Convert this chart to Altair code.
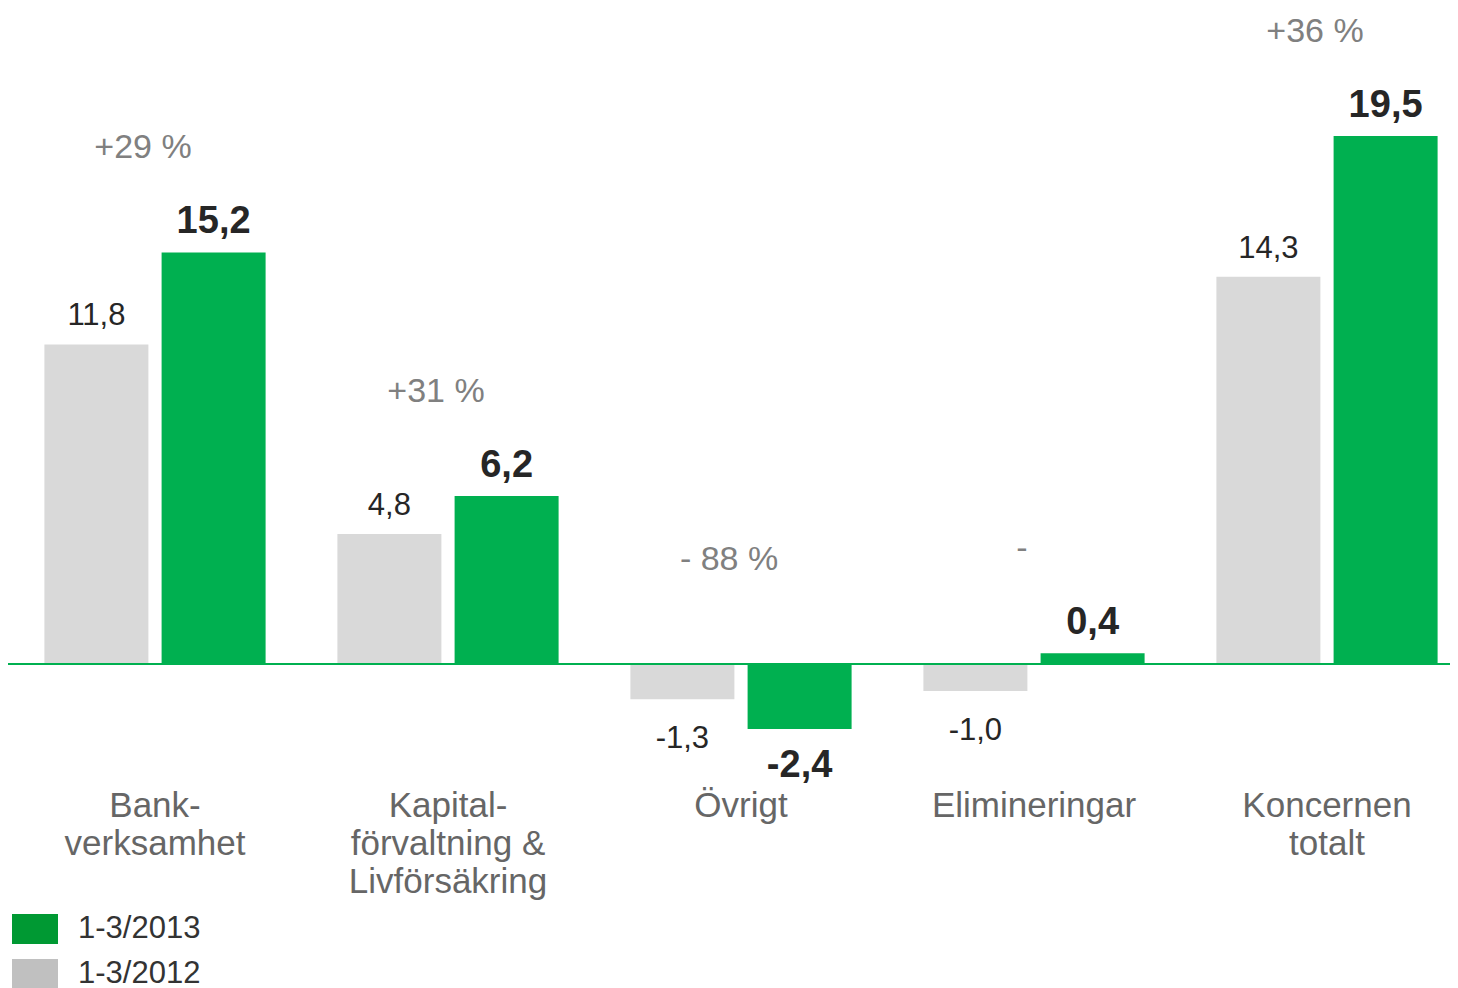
import altair as alt
import pandas as pd

# ---- data ----
categories = ["Bank-\nverksamhet", "Kapital-\nförvaltning &\nLivförsäkring", "Övrigt",
              "Elimineringar", "Koncernen\ntotalt"]
values_2012 = [11.8, 4.8, -1.3, -1.0, 14.3]
values_2013 = [15.2, 6.2, -2.4, 0.4, 19.5]
changes = ["+29 %", "+31 %", "- 88 %", "-", "+36 %"]
series_names = ["1-3/2013", "1-3/2012"]

FONT = "Liberation Sans"
GREEN = "#00B050"
GRAY = "#D9D9D9"


def fmt(v):
    return f"{v:.1f}".replace(".", ",")


rows = []
for i, c in enumerate(categories):
    for s, vals, off in (("1-3/2012", values_2012, -0.2), ("1-3/2013", values_2013, 0.2)):
        v = vals[i]
        rows.append({"cat": c, "idx": i, "pos": i + off, "series": s,
                     "value": v, "label": fmt(v)})
bars_df = pd.DataFrame(rows)

grp_df = pd.DataFrame({
    "cat": categories,
    "idx": list(range(len(categories))),
    "change": changes,
    "top": [max(0, a, b) for a, b in zip(values_2012, values_2013)],
    "zero": [0.0] * len(categories),
})

W, H = 1442, 980
px_per_unit = 27.08
x_scale = alt.Scale(domain=[-147 / 293, (W - 147) / 293], nice=False, zero=False, padding=0)
y_scale = alt.Scale(domain=[-(H - 656) / px_per_unit, 656 / px_per_unit], nice=False, zero=False, padding=0)


def X(f):
    return alt.X(f, type="quantitative", scale=x_scale, axis=None)


def Y(f):
    return alt.Y(f, type="quantitative", scale=y_scale, axis=None)


base = alt.Chart(bars_df)

bars = base.mark_bar(size=104).encode(
    x=X("pos"), y=Y("value"),
    color=alt.Color("series:N", scale=alt.Scale(domain=series_names, range=[GREEN, GRAY]), legend=None),
)

legend_layer = base.mark_point(opacity=0, filled=True).encode(
    x=X("pos"), y=Y("value"),
    fill=alt.Fill("series:N", scale=alt.Scale(domain=series_names, range=["#009933", "#C0C0C0"]),
                  legend=alt.Legend(title=None, orient="none", legendX=4, legendY=898,
                                    symbolType="M-1,-0.652H1V0.652H-1Z", symbolSize=2116,
                                    symbolStrokeWidth=0, symbolOpacity=1,
                                    labelFontSize=31, labelFont=FONT, labelColor="#333333",
                                    labelOffset=20, rowPadding=7, padding=0)),
)

zero = alt.Chart(grp_df).mark_rule(color=GREEN, strokeWidth=2).encode(y=Y("zero"))

g12 = base.transform_filter(alt.datum.series == "1-3/2012")
g13 = base.transform_filter(alt.datum.series == "1-3/2013")

t12_pos = g12.transform_filter(alt.datum.value >= 0).mark_text(
    font=FONT, fontSize=31, color="#262626", dy=-28, baseline="middle").encode(
    x=X("pos"), y=Y("value"), text="label:N")
t12_neg = g12.transform_filter(alt.datum.value < 0).mark_text(
    font=FONT, fontSize=31, color="#262626", dy=40, baseline="middle").encode(
    x=X("pos"), y=Y("value"), text="label:N")
t13_pos = g13.transform_filter(alt.datum.value >= 0).mark_text(
    font=FONT, fontSize=38, fontWeight="bold", color="#262626", dy=-30, baseline="middle").encode(
    x=X("pos"), y=Y("value"), text="label:N")
t13_neg = g13.transform_filter(alt.datum.value < 0).mark_text(
    font=FONT, fontSize=38, fontWeight="bold", color="#262626", dy=37, baseline="middle").encode(
    x=X("pos"), y=Y("value"), text="label:N")

change_txt = alt.Chart(grp_df).mark_text(
    font=FONT, fontSize=34, color="#808080", dy=-104, dx=-12, baseline="middle").encode(
    x=X("idx"), y=Y("top"), text="change:N")

cat_txt = alt.Chart(grp_df).mark_text(
    font=FONT, fontSize=35, color="#666666", dy=125, baseline="top",
    lineBreak="\n", lineHeight=38, align="center").encode(
    x=X("idx"), y=Y("zero"), text="cat:N")

chart = alt.layer(
    legend_layer, bars, zero, t12_pos, t12_neg, t13_pos, t13_neg, change_txt, cat_txt
).properties(
    width=W, height=H, padding=0, autosize=alt.AutoSizeParams(type="none"),
    background="white",
).configure(font=FONT).configure_view(stroke=None)

chart.save("out.html", embed_options={"renderer": "svg", "actions": False})
